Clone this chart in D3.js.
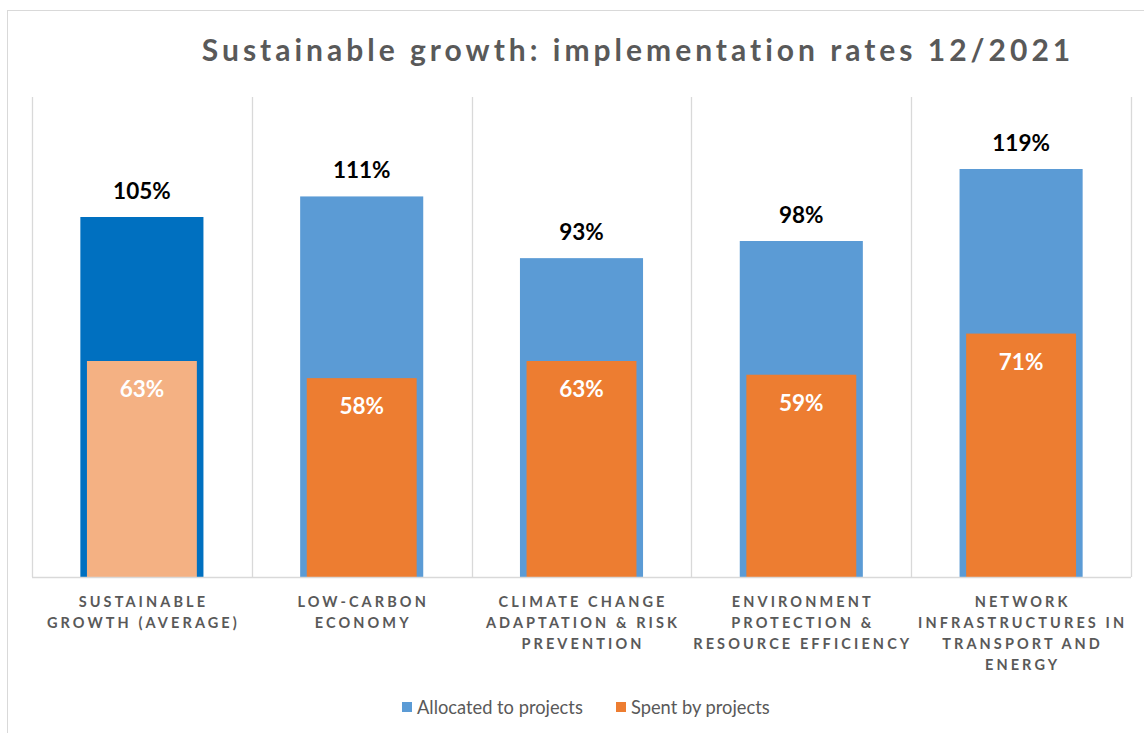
<!DOCTYPE html>
<html>
<head>
<meta charset="utf-8">
<script src="https://cdn.jsdelivr.net/npm/d3@7/dist/d3.min.js"></script>
<style>
  body { margin: 0; background: #fff; }
  svg { display: block; }
</style>
</head>
<body>
<svg id="chart" width="1144" height="733"></svg>
<script>
const categories = [
  ["SUSTAINABLE", "GROWTH (AVERAGE)"],
  ["LOW-CARBON", "ECONOMY"],
  ["CLIMATE CHANGE", "ADAPTATION & RISK", "PREVENTION"],
  ["ENVIRONMENT", "PROTECTION &", "RESOURCE EFFICIENCY"],
  ["NETWORK", "INFRASTRUCTURES IN", "TRANSPORT AND", "ENERGY"]
];
const allocated = [105, 111, 93, 98, 119];
const spent = [63, 58, 63, 59, 71];
const seriesNames = ["Allocated to projects", "Spent by projects"];
const title = "Sustainable growth: implementation rates 12/2021";

const blue = "#5B9BD5", blueDark = "#0070C0";
const orange = "#ED7D31", orangeLight = "#F4B183";
const grid = "#D9D9D9", textGray = "#595959";
const font = "Lato, 'Open Sans', sans-serif";

const svg = d3.select("#chart");
const W = 1144, H = 733;
const m = { left: 32, right: 1131, top: 97, bottom: 577 };

// outer border
svg.append("rect").attr("x", 7.5).attr("y", 10.5).attr("width", W).attr("height", H)
  .attr("fill", "none").attr("stroke", grid).attr("stroke-width", 1);

const idx = categories.map((d, i) => i);
const x = d3.scaleBand().domain(idx).range([m.left, m.right]).paddingInner(0).paddingOuter(0);
const y = d3.scaleLinear().domain([0, 140]).range([m.bottom, m.top]);

// vertical separators
const seps = d3.range(categories.length + 1).map(i => m.left + i * x.bandwidth());
svg.selectAll("line.sep").data(seps).join("line")
  .attr("x1", d => Math.round(d) + 0.5).attr("x2", d => Math.round(d) + 0.5)
  .attr("y1", m.top).attr("y2", m.bottom)
  .attr("stroke", grid).attr("stroke-width", 1.3);

// title
svg.append("text").attr("x", 638).attr("y", 61).attr("text-anchor", "middle")
  .attr("font-family", font).attr("font-weight", "bold").attr("font-size", 30)
  .attr("letter-spacing", 4).attr("fill", textGray).text(title);

const bwBlue = x.bandwidth() * 0.56;
const bwOr = x.bandwidth() * 0.5;

// allocated bars
svg.selectAll("rect.alloc").data(allocated).join("rect")
  .attr("x", (d, i) => x(i) + (x.bandwidth() - bwBlue) / 2)
  .attr("width", bwBlue)
  .attr("y", d => y(d)).attr("height", d => y(0) - y(d))
  .attr("fill", (d, i) => i === 0 ? blueDark : blue);

// spent bars
svg.selectAll("rect.spent").data(spent).join("rect")
  .attr("x", (d, i) => x(i) + (x.bandwidth() - bwOr) / 2)
  .attr("width", bwOr)
  .attr("y", d => y(d)).attr("height", d => y(0) - y(d))
  .attr("fill", (d, i) => i === 0 ? orangeLight : orange);

// baseline
svg.append("line").attr("x1", m.left).attr("x2", m.right)
  .attr("y1", m.bottom + 0.5).attr("y2", m.bottom + 0.5)
  .attr("stroke", grid).attr("stroke-width", 1.3);

// labels allocated
svg.selectAll("text.al").data(allocated).join("text")
  .attr("x", (d, i) => x(i) + x.bandwidth() / 2)
  .attr("y", d => y(d) - 18)
  .attr("text-anchor", "middle").attr("font-family", font).attr("font-weight", "bold")
  .attr("font-size", 22.5).attr("fill", "#000").text(d => d + "%");

// labels spent
svg.selectAll("text.sl").data(spent).join("text")
  .attr("x", (d, i) => x(i) + x.bandwidth() / 2)
  .attr("y", d => y(d) + 36)
  .attr("text-anchor", "middle").attr("font-family", font).attr("font-weight", "bold")
  .attr("font-size", 22.5).attr("fill", "#fff").text(d => d + "%");

// category labels
categories.forEach((lines, i) => {
  const t = svg.append("text")
    .attr("text-anchor", "middle").attr("font-family", font).attr("font-weight", "bold")
    .attr("font-size", 14.5).attr("letter-spacing", 3.1).attr("fill", textGray);
  lines.forEach((ln, j) => {
    t.append("tspan").attr("x", x(i) + x.bandwidth() / 2 + 1.5).attr("y", 606.5 + j * 21.3).text(ln);
  });
});

// legend
const legend = [
  { name: seriesNames[0], color: blue, x: 402 },
  { name: seriesNames[1], color: orange, x: 616 }
];
legend.forEach(l => {
  svg.append("rect").attr("x", l.x).attr("y", 702).attr("width", 10).attr("height", 10).attr("fill", l.color);
  svg.append("text").attr("x", l.x + 15).attr("y", 714).attr("font-family", font)
    .attr("font-size", 18.3).attr("fill", textGray).text(l.name);
});
</script>
</body>
</html>
